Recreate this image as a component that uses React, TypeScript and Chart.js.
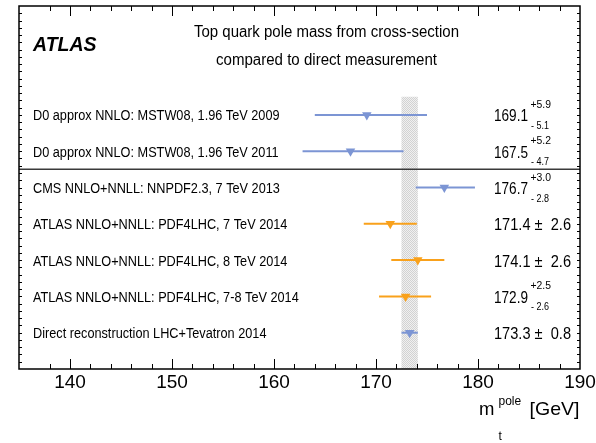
import React, { useEffect, useRef } from 'react';
import { Chart, registerables } from 'chart.js';

Chart.register(...registerables);

// ---------------- data ----------------
const measurementLabels = [
  'D0 approx NNLO: MSTW08, 1.96 TeV 2009',
  'D0 approx NNLO: MSTW08, 1.96 TeV 2011',
  'CMS NNLO+NNLL: NNPDF2.3, 7 TeV 2013',
  'ATLAS NNLO+NNLL: PDF4LHC, 7 TeV 2014',
  'ATLAS NNLO+NNLL: PDF4LHC, 8 TeV 2014',
  'ATLAS NNLO+NNLL: PDF4LHC, 7-8 TeV 2014',
  'Direct reconstruction LHC+Tevatron 2014',
];
const centralValues = [169.1, 167.5, 176.7, 171.4, 174.1, 172.9, 173.3];
const errorsUp = [5.9, 5.2, 3.0, 2.6, 2.6, 2.5, 0.8];
const errorsDown = [5.1, 4.7, 2.8, 2.6, 2.6, 2.6, 0.8];
const rowPositions = [7, 6, 5, 4, 3, 2, 1];
const experimentGroups = ['D0', 'D0', 'CMS', 'ATLAS', 'ATLAS', 'ATLAS', 'Direct'];
const directIndex = 6;
const bandTopRow = 7.5;
const separatorRow = 5.5;
const xMin = 135;
const xMax = 190;
const xMinorStep = 2;
const xMajorStep = 10;
const yMin = 0;
const yMax = 10;
const titleLines = ['Top quark pole mass from cross-section', 'compared to direct measurement'];
const experimentLabel = 'ATLAS';

// ---------------- styles ----------------
const BLUE = '#7c95d4';
const ORANGE = '#f9a11b';
const FONT = "'Liberation Sans', Arial, Helvetica, sans-serif";
const colorFor = (g: string) => (g === 'ATLAS' ? ORANGE : BLUE);

let bandPattern: CanvasPattern | string | null = null;
function getPattern(ctx: CanvasRenderingContext2D) {
  if (bandPattern) return bandPattern;
  const c = document.createElement('canvas');
  c.width = 2;
  c.height = 2;
  const p = c.getContext('2d')!;
  p.fillStyle = '#f0f0f0';
  p.fillRect(0, 0, 2, 2);
  p.fillStyle = '#d2d2d2';
  p.fillRect(0, 0, 1, 1);
  p.fillRect(1, 1, 1, 1);
  bandPattern = ctx.createPattern(c, 'repeat') || '#e0e0e0';
  return bandPattern;
}

function drawText(
  ctx: CanvasRenderingContext2D,
  text: string,
  x: number,
  y: number,
  font: string,
  opts: { scale?: number; width?: number; align?: CanvasTextAlign } = {}
) {
  ctx.save();
  ctx.font = font;
  ctx.fillStyle = '#000';
  ctx.textBaseline = 'alphabetic';
  ctx.textAlign = opts.align || 'left';
  let s = opts.scale ?? 1;
  if (opts.width) s = opts.width / ctx.measureText(text).width;
  ctx.translate(x, y);
  ctx.scale(s, 1);
  ctx.fillText(text, 0, 0);
  ctx.restore();
}

const decorPlugin = {
  id: 'atlasDecor',
  beforeDatasetsDraw(chart: any) {
    const { ctx, chartArea: a, scales } = chart;
    const x = scales.x;
    const y = scales.y;
    const bandLo = centralValues[directIndex] - errorsDown[directIndex];
    const bandHi = centralValues[directIndex] + errorsUp[directIndex];
    const x0 = x.getPixelForValue(bandLo);
    const x1 = x.getPixelForValue(bandHi);
    const yT = y.getPixelForValue(bandTopRow);
    const yB = y.getPixelForValue(yMin);
    ctx.save();
    ctx.fillStyle = getPattern(ctx);
    ctx.fillRect(x0, yT, x1 - x0, yB - yT);
    ctx.restore();
    // separator
    const ys = y.getPixelForValue(separatorRow);
    ctx.save();
    ctx.strokeStyle = '#3a3a3a';
    ctx.lineWidth = 1.5;
    ctx.beginPath();
    ctx.moveTo(a.left, ys);
    ctx.lineTo(a.right, ys);
    ctx.stroke();
    ctx.restore();
  },
  afterDatasetsDraw(chart: any) {
    const { ctx, chartArea: a, scales } = chart;
    const x = scales.x;
    const y = scales.y;
    ctx.save();
    ctx.strokeStyle = '#000';
    ctx.lineWidth = 1;
    // x tick marks (bottom & top, pointing inward)
    ctx.beginPath();
    for (const t of x.ticks) {
      const v = t.value;
      if (v <= xMin || v >= xMax) continue;
      if (Math.abs(v % xMinorStep) > 1e-9) continue;
      const px = Math.round(x.getPixelForValue(v)) + 0.5;
      const len = Math.abs(v % xMajorStep) < 1e-9 ? 10 : 5;
      ctx.moveTo(px, a.bottom);
      ctx.lineTo(px, a.bottom - len);
      ctx.moveTo(px, a.top);
      ctx.lineTo(px, a.top + len);
    }
    // y tick marks (left & right)
    for (let i = 1; i < 50; i++) {
      const v = yMin + ((yMax - yMin) * i) / 50;
      const py = Math.round(y.getPixelForValue(v)) + 0.5;
      ctx.moveTo(a.left, py);
      ctx.lineTo(a.left + 3, py);
      ctx.moveTo(a.right, py);
      ctx.lineTo(a.right - 3, py);
    }
    ctx.stroke();
    // frame
    ctx.lineWidth = 1.5;
    ctx.strokeRect(a.left, a.top, a.right - a.left, a.bottom - a.top);
    ctx.restore();

    // texts
    drawText(ctx, experimentLabel, 33, 50.5, `italic bold 19.5px ${FONT}`);
    drawText(ctx, titleLines[0], 326.5, 36.5, `16px ${FONT}`, { width: 265, align: 'center' });
    drawText(ctx, titleLines[1], 326.5, 64.5, `16px ${FONT}`, { width: 221, align: 'center' });

    measurementLabels.forEach((lab, i) => {
      const py = y.getPixelForValue(rowPositions[i]);
      drawText(ctx, lab, 33, py + 5.5, `15.5px ${FONT}`, { scale: 0.82 });
      const c = centralValues[i];
      const up = errorsUp[i];
      const dn = errorsDown[i];
      if (up === dn) {
        drawText(ctx, `${c.toFixed(1)} \u00b1  ${up.toFixed(1)}`, 494, py + 6.5, `16.5px ${FONT}`, { width: 77 });
      } else {
        drawText(ctx, c.toFixed(1), 494, py + 6.5, `16.5px ${FONT}`, { width: 34 });
        drawText(ctx, `+${up.toFixed(1)}`, 530.5, py - 7, `11.5px ${FONT}`, { width: 20.5 });
        drawText(ctx, `- ${dn.toFixed(1)}`, 531, py + 14, `11.5px ${FONT}`, { width: 18 });
      }
    });

    // axis title  m_t^pole [GeV]
    drawText(ctx, 'm', 479, 415, `18.5px ${FONT}`);
    drawText(ctx, 'pole', 498.5, 405, `12px ${FONT}`);
    drawText(ctx, 't', 498.5, 440, `12px ${FONT}`);
    drawText(ctx, '[GeV]', 529.5, 415, `18.5px ${FONT}`, { width: 50 });
  },
};

export default function App() {
  const canvasRef = useRef<HTMLCanvasElement | null>(null);

  useEffect(() => {
    const canvas = canvasRef.current;
    if (!canvas) return;

    const markerData = centralValues.map((v, i) => ({ x: v, y: rowPositions[i] }));
    const markerColors = experimentGroups.map(colorFor);

    const errorBarSets = centralValues.map((v, i) => ({
      type: 'line' as const,
      label: measurementLabels[i],
      data: [
        { x: v - errorsDown[i], y: rowPositions[i] },
        { x: v + errorsUp[i], y: rowPositions[i] },
      ],
      borderColor: colorFor(experimentGroups[i]),
      borderWidth: 2,
      pointRadius: 0,
      fill: false,
      order: 1,
    }));

    const chart = new Chart(canvas, {
      type: 'scatter',
      data: {
        datasets: [
          {
            label: 'central values',
            data: markerData,
            pointStyle: 'triangle',
            rotation: 180,
            pointRadius: 5.5,
            pointBackgroundColor: markerColors,
            pointBorderColor: markerColors,
            pointBorderWidth: 0,
            showLine: false,
            order: 0,
          } as any,
          ...errorBarSets,
        ],
      },
      options: {
        animation: false,
        responsive: true,
        maintainAspectRatio: false,
        layout: { padding: { left: 19, right: 16, top: 6, bottom: 46 } },
        plugins: {
          legend: { display: false },
          tooltip: { enabled: false },
        },
        scales: {
          x: {
            type: 'linear',
            min: xMin,
            max: xMax,
            grid: { display: false, drawTicks: false },
            border: { display: false },
            afterFit: (s: any) => {
              s.paddingLeft = 0;
              s.paddingRight = 0;
              s.height = 28;
            },
            ticks: {
              stepSize: xMinorStep,
              autoSkip: false,
              maxRotation: 0,
              minRotation: 0,
              padding: 2,
              color: '#000',
              font: { family: FONT, size: 19 },
              callback: (v: any) => (Math.abs(Number(v) % xMajorStep) < 1e-9 ? String(v) : ''),
            },
          },
          y: {
            type: 'linear',
            min: yMin,
            max: yMax,
            display: false,
          },
        },
      },
      plugins: [decorPlugin],
    } as any);

    return () => chart.destroy();
  }, []);

  return (
    <div style={{ position: 'absolute', left: 0, top: 0, width: 596, height: 443, background: '#fff' }}>
      <canvas ref={canvasRef} />
    </div>
  );
}
